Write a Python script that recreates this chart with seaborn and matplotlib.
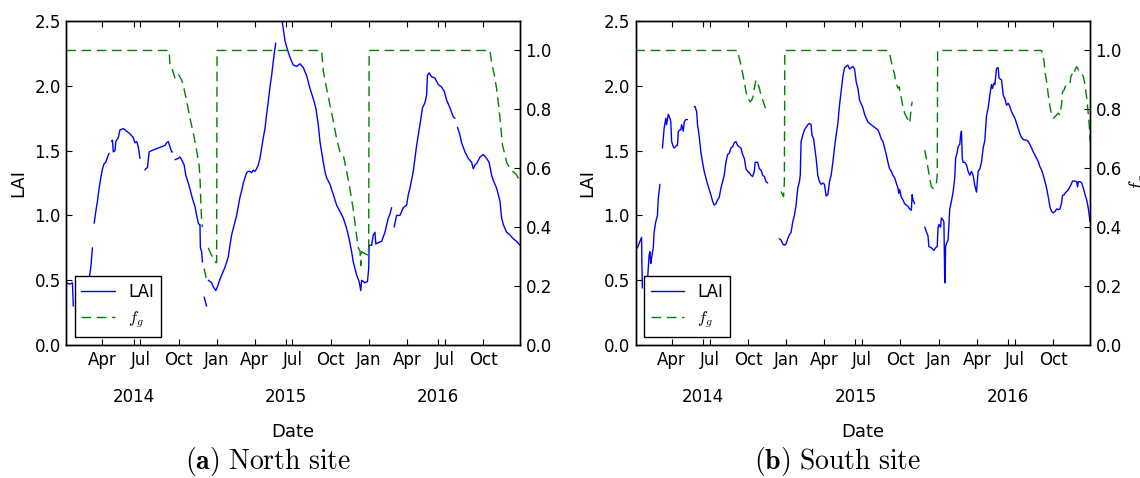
import numpy as np
import pandas as pd
import matplotlib
matplotlib.use("Agg")
import matplotlib.pyplot as plt
import matplotlib.dates as mdates
from matplotlib.lines import Line2D
from matplotlib.ticker import FixedLocator, FormatStrFormatter
import seaborn as sns

nan = np.nan
ORIGIN = pd.Timestamp("2014-01-01")   # day 0 of the series below
YEARS = [2014, 2015, 2016]

# ---------------- North site (days since 1 Jan 2014; NaN = gap in record) ----
north_lai_day = [
    3, 12, 18, 20, nan,
    58, 62, 66, nan,
    70, 74, 78, 82, 86, 90, 94, 98, 102, 106, nan,
    112, 114, 116, 120, 122, 128, 132, 140, 148, 156, 164, 168, 172, 176, 180, nan,
    192, 194, 198, 202, 208, 216, 224, 232, 240, 244, 248, 252, 256, 258, nan,
    264, 272, 276, 280, 286, 290, 296, 302, 306, 312, 316, 320, 322, 324, 325, 328, 330, nan,
    334, 340, nan,
    344, 348, 352, 356, 362, 366, 370, 376, 380, 384, 388, 392, 396, 400, 404, 408, 412,
    416, 420, 424, 428, 432, 436, 440, 444, 448, 452, 456, 460, 464, 468, 472, 476, 480,
    484, 488, 492, 496, 500, 504, 506, nan,
    512, 516, 520, 524, 528, 532, 536, 540, 548, 556, 564, 572, 580, 588, 596, 602, 608,
    612, 616, 620, 624, 628, 636, 644, 652, 660, 668, 676, 682, 688, 692, 700, 706, 710,
    712, 720, 726, 729, 730, 736, 740, 744, 746, 752, 760, 768, 776, 780, 784, nan,
    790, 796, 804, 812, 820, 824, 828, 836, 844, 852, 858, 864, 868, 870, 874, 880, 888,
    896, 904, 910, 916, 924, 932, 936, nan,
    942, 948, 952, 960, 968, 976, 980, 984, 988, 996, 1004, 1012, 1018, 1024, 1028, 1036,
    1044, 1048, 1052, 1060, 1068, 1076, 1084, 1092,
]
north_lai = [
    0.48, 0.47, 0.48, 0.30, nan,
    0.51, 0.60, 0.75, nan,
    0.94, 1.03, 1.11, 1.21, 1.29, 1.36, 1.40, 1.41, 1.45, 1.48, nan,
    1.57, 1.58, 1.49, 1.50, 1.57, 1.60, 1.66, 1.67, 1.65, 1.63, 1.60, 1.56, 1.57, 1.53, 1.44, nan,
    1.35, 1.36, 1.37, 1.49, 1.50, 1.51, 1.52, 1.53, 1.54, 1.56, 1.57, 1.53, 1.49, 1.49, nan,
    1.43, 1.44, 1.45, 1.43, 1.39, 1.31, 1.25, 1.18, 1.13, 1.07, 1.00, 0.94, 0.93, 0.93, 0.75, 0.72, 0.64, nan,
    0.37, 0.30, nan,
    0.50, 0.49, 0.48, 0.45, 0.42, 0.45, 0.49, 0.54, 0.57, 0.60, 0.64, 0.68, 0.77, 0.85, 0.90, 0.95, 1.00,
    1.07, 1.14, 1.19, 1.25, 1.29, 1.33, 1.34, 1.34, 1.33, 1.35, 1.34, 1.36, 1.39, 1.44, 1.52, 1.60, 1.67,
    1.78, 1.88, 1.99, 2.08, 2.19, 2.29, 2.33, nan,
    2.50, 2.53, 2.52, 2.44, 2.35, 2.30, 2.26, 2.22, 2.16, 2.15, 2.17, 2.14, 2.08, 1.98, 1.90, 1.83, 1.70,
    1.57, 1.49, 1.41, 1.34, 1.29, 1.24, 1.16, 1.08, 1.03, 0.98, 0.90, 0.82, 0.72, 0.64, 0.54, 0.49, 0.42,
    0.50, 0.48, 0.49, 0.59, 0.77, 0.77, 0.85, 0.87, 0.78, 0.79, 0.80, 0.87, 0.98, 1.01, 1.06, nan,
    0.91, 1.00, 1.00, 1.06, 1.08, 1.16, 1.21, 1.34, 1.54, 1.70, 1.83, 1.87, 1.93, 2.08, 2.10, 2.07, 2.06,
    2.01, 1.99, 1.96, 1.89, 1.83, 1.76, 1.75, nan,
    1.68, 1.62, 1.56, 1.49, 1.44, 1.41, 1.36, 1.39, 1.40, 1.45, 1.47, 1.44, 1.41, 1.31, 1.27, 1.21,
    1.11, 0.98, 0.93, 0.87, 0.85, 0.82, 0.80, 0.77,
]
north_fg_day = [
    3, 250, 252, 256, 259, 264, 270, 272, 276, 280, 284, 292, 300, 308, 316, 322, 324, 326, 328, 330, nan,
    334, 340, nan,
    344, 350, 356, 362, 364, 365, 616, 620, 628, 636, 644, 652, 660, 668, 676, 684, 692, 700, 704,
    708, 710, 712, 720, 726, 729, 730, 1020, 1024, 1030, 1036, 1042, 1046, 1050, 1056, 1060, 1068,
    1076, 1084, 1092,
]
north_fg = [
    1.0, 1.0, 0.95, 0.945, 0.93, 0.906, 0.915, 0.92, 0.91, 0.90, 0.88, 0.83, 0.77, 0.72, 0.66, 0.61,
    0.57, 0.49, 0.42, 0.40, nan,
    0.26, 0.22, nan,
    0.33, 0.31, 0.295, 0.28, 0.28, 1.0, 1.0, 0.93, 0.87, 0.815, 0.76, 0.70, 0.656, 0.645, 0.59, 0.53,
    0.46, 0.37, 0.33, 0.32, 0.27, 0.317, 0.31, 0.306, 0.33, 1.0, 1.0, 0.96, 0.92, 0.87, 0.80, 0.74,
    0.68, 0.645, 0.62, 0.60, 0.588, 0.577, 0.555,
]

# ---------------- South site -------------------------------------------------
south_lai_day = [
    3, 8, 14, 18, 19, 20, nan,
    32, 36, 38, 40, 42, 46, 48, 52, 56, 58, 62, nan,
    68, 72, 76, 78, 82, 86, 88, 90, 94, 96, 102, 104, 106, 110, 112, 114, 118, 120, 124, 128, nan,
    144, 146, 150, 152, 156, 160, 164, 168, 172, 176, 180, 184, 188, 192, 196, 200, 204, 208,
    212, 216, 220, 224, 228, 232, 236, 240, 244, 248, 252, 256, 260, 264, 268, 272, 276, 280,
    284, 288, 290, 296, 300, 304, 308, 312, 316, 320, nan,
    348, 352, 356, 360, 364, 368, 372, 376, 380, 384, 388, 392, 396, 398, 400, 404, 408, 416,
    420, 424, 426, 430, 432, 436, 440, 444, 448, 452, 456, 460, 464, 468, 472, 476, 480, 484,
    488, 492, 496, 500, 504, 508, 512, 516, 524, 528, 532, 536, 540, 548, 552, 556, 560, 564,
    572, 580, 584, 588, 592, 596, 600, 604, 608, 612, 616, 620, 624, 628, 632, 634, 636, 640,
    644, 648, 652, 656, 660, 664, 666, 668, 672, nan,
    696, 700, 704, 706, 712, 718, 722, 726, 728, 730, 734, 736, 740, 742, 744, 745, 746, 748,
    752, 756, 760, 764, 768, 770, 774, 776, 780, 782, 784, 786, 788, 792, 796, 800, 804, 808,
    812, 816, 820, 824, 828, 832, 836, 840, 844, 848, 852, 856, 858, 862, 864, 868, 872, 874,
    880, 884, 888, 892, 896, 900, 904, 908, 912, 916, 920, 924, 928, 932, 940, 944, 948, 952,
    956, 960, 964, 968, 972, 976, 980, 984, 988, 992, 996, 1000, 1004, 1008, 1012, 1016, 1020,
    1024, 1026, 1030, 1034, 1038, 1042, 1046, 1050, 1056, 1060, 1062, 1064, 1068, 1072, 1076,
    1080, 1084, 1088, 1092,
]
south_lai = [
    0.74, 0.75, 0.80, 0.83, 0.59, 0.44, nan,
    0.49, 0.69, 0.72, 0.63, 0.67, 0.75, 0.87, 0.95, 1.00, 1.13, 1.24, nan,
    1.52, 1.67, 1.75, 1.70, 1.78, 1.75, 1.72, 1.57, 1.53, 1.52, 1.54, 1.54, 1.65, 1.66, 1.66, 1.70,
    1.65, 1.72, 1.74, 1.74, nan,
    1.84, 1.84, 1.80, 1.70, 1.61, 1.49, 1.41, 1.34, 1.29, 1.24, 1.20, 1.16, 1.11, 1.08, 1.09, 1.12,
    1.14, 1.21, 1.26, 1.31, 1.41, 1.47, 1.48, 1.52, 1.53, 1.56, 1.57, 1.54, 1.53, 1.52, 1.47, 1.44,
    1.36, 1.34, 1.33, 1.31, 1.30, 1.34, 1.41, 1.41, 1.36, 1.35, 1.31, 1.30, 1.26, 1.25, nan,
    0.82, 0.81, 0.78, 0.77, 0.78, 0.82, 0.85, 0.87, 0.95, 1.00, 1.08, 1.21, 1.26, 1.31, 1.57, 1.62,
    1.66, 1.70, 1.71, 1.70, 1.62, 1.59, 1.54, 1.44, 1.31, 1.26, 1.24, 1.25, 1.24, 1.15, 1.16, 1.26,
    1.31, 1.41, 1.52, 1.62, 1.71, 1.85, 1.96, 2.07, 2.14, 2.15, 2.16, 2.13, 2.15, 2.13, 2.03, 1.98,
    1.89, 1.83, 1.78, 1.75, 1.72, 1.71, 1.69, 1.67, 1.66, 1.63, 1.59, 1.57, 1.52, 1.47, 1.41, 1.36,
    1.34, 1.31, 1.29, 1.25, 1.21, 1.17, 1.20, 1.14, 1.12, 1.09, 1.08, 1.07, 1.05, 1.04, 1.16, 1.12,
    1.09, nan,
    0.91, 0.875, 0.84, 0.76, 0.75, 0.73, 0.75, 0.76, 0.91, 0.93, 0.91, 0.98, 0.965, 0.95, 0.49,
    0.48, 0.76, 0.78, 0.81, 1.05, 1.11, 1.18, 1.29, 1.44, 1.49, 1.53, 1.55, 1.62, 1.65, 1.44, 1.41,
    1.41, 1.39, 1.34, 1.31, 1.34, 1.31, 1.23, 1.18, 1.34, 1.36, 1.41, 1.52, 1.58, 1.77, 1.83, 1.93,
    2.01, 1.98, 2.02, 2.01, 2.135, 2.14, 2.06, 2.045, 1.93, 1.90, 1.85, 1.865, 1.84, 1.80, 1.775,
    1.75, 1.71, 1.67, 1.63, 1.60, 1.585, 1.58, 1.57, 1.545, 1.52, 1.49, 1.465, 1.44, 1.415, 1.375,
    1.35, 1.31, 1.26, 1.21, 1.14, 1.065, 1.03, 1.02, 1.03, 1.05, 1.045, 1.05, 1.10, 1.155, 1.16,
    1.18, 1.19, 1.21, 1.235, 1.265, 1.265, 1.26, 1.22, 1.26, 1.26, 1.25, 1.21, 1.16, 1.12, 1.05, 0.95,
]
south_fg_day = [
    3, 248, 252, 256, 260, 264, 268, 272, 278, 282, 286, 288, 292, 296, 300, 304, 308, 312, 316, nan,
    352, 358, 360, 361, 608, 612, 616, 620, 624, 628, 632, 635, 636, 640, 644, 648, 652, 656, 660,
    662, 664, 666, nan,
    696, 700, 704, 708, 712, 716, 720, 724, 726, 727, 976, 978, 982, 984, 988, 992, 996, 1000,
    1004, 1008, 1012, 1016, 1020, 1024, 1026, 1030, 1034, 1040, 1044, 1046, 1050, 1053, 1056,
    1060, 1064, 1068, 1072, 1076, 1080, 1084, 1088, 1090, 1092,
]
south_fg = [
    1.0, 1.0, 0.973, 0.951, 0.923, 0.894, 0.86, 0.838, 0.826, 0.832, 0.849, 0.872, 0.90, 0.889,
    0.872, 0.849, 0.832, 0.815, 0.798, nan,
    0.521, 0.504, 0.554, 1.0, 1.0, 0.99, 0.962, 0.939, 0.917, 0.888, 0.872, 0.877, 0.866, 0.838,
    0.809, 0.787, 0.775, 0.764, 0.753, 0.781, 0.809, 0.826, nan,
    0.662, 0.634, 0.60, 0.566, 0.537, 0.532, 0.537, 0.549, 0.577, 1.0, 1.0, 0.99, 0.962, 0.928,
    0.894, 0.849, 0.809, 0.781, 0.770, 0.775, 0.781, 0.787, 0.781, 0.821, 0.86, 0.866, 0.883,
    0.888, 0.888, 0.911, 0.922, 0.917, 0.934, 0.945, 0.934, 0.928, 0.922, 0.911, 0.883, 0.838,
    0.781, 0.747, 0.69,
]

LAI_TICKS = [0.0, 0.5, 1.0, 1.5, 2.0, 2.5]
FG_TICKS = [0.0, 0.2, 0.4, 0.6, 0.8, 1.0]
X_START, X_END = 3.6, 1092.0       # visible date range, days since ORIGIN

sns.set_style("white")
plt.rcParams.update({
    "font.family": ["DejaVu Sans"],
    "mathtext.fontset": "cm",
    "text.color": "black",
    "axes.labelcolor": "black",
    "axes.edgecolor": "black",
    "axes.linewidth": 1.0,
    "xtick.color": "black",
    "ytick.color": "black",
    "xtick.direction": "in",
    "ytick.direction": "in",
    "xtick.labelsize": 12,
    "ytick.labelsize": 12,
    "lines.dashed_pattern": (7, 4),
})


def to_frame(days, values):
    """Turn a day/value record into a frame; each NaN starts a new segment."""
    d = np.asarray(days, float)
    v = np.asarray(values, float)
    seg = np.cumsum(np.isnan(v))
    keep = ~np.isnan(v)
    return pd.DataFrame({
        "date": ORIGIN + pd.to_timedelta(d[keep], unit="D"),
        "value": v[keep],
        "seg": seg[keep],
    })


def draw_panel(rect, lai_day, lai, fg_day, fg, caption, fg_ylabel):
    ax = fig.add_axes(rect)
    axt = ax.twinx()

    sns.lineplot(data=to_frame(lai_day, lai), x="date", y="value", units="seg",
                 estimator=None, sort=False, color="b", lw=1.0, ax=ax, legend=False)
    sns.lineplot(data=to_frame(fg_day, fg), x="date", y="value", units="seg",
                 estimator=None, sort=False, color="g", lw=1.0, linestyle="--",
                 ax=axt, legend=False)

    ax.set_xlim(ORIGIN + pd.Timedelta(days=X_START), ORIGIN + pd.Timedelta(days=X_END))
    ax.set_ylim(0, 2.5)
    ax.set_yticks(LAI_TICKS)
    ax.yaxis.set_major_formatter(FormatStrFormatter("%.1f"))
    axt.set_ylim(0, 1.1)
    axt.set_yticks(FG_TICKS)
    axt.yaxis.set_major_formatter(FormatStrFormatter("%.1f"))

    # quarter-month labels, with the year in a second row
    ax.xaxis.set_major_locator(mdates.MonthLocator(bymonth=[1, 4, 7, 10]))
    ax.xaxis.set_major_formatter(mdates.DateFormatter("%b"))
    year_pos = mdates.date2num([pd.Timestamp(f"{y}-06-15") for y in YEARS])
    ax.xaxis.set_minor_locator(FixedLocator(year_pos))
    ax.xaxis.set_minor_formatter(mdates.DateFormatter("%Y"))

    ax.tick_params(axis="x", which="both", top=True, bottom=True, length=4, width=0.8)
    ax.tick_params(axis="x", which="major", pad=4)
    ax.tick_params(axis="x", which="minor", pad=31, labelsize=12)
    ax.tick_params(axis="y", which="major", left=True, right=False, length=4, width=0.8, pad=4)
    axt.tick_params(axis="y", which="major", right=True, length=4, width=0.8, pad=4)

    ax.set_xlabel("Date", fontsize=13, labelpad=12)
    ax.set_ylabel("LAI", fontsize=13, labelpad=5)
    axt.set_ylabel(fg_ylabel, fontsize=14, labelpad=4)

    handles = [Line2D([0], [0], color="b", lw=1.0),
               Line2D([0], [0], color="g", lw=1.0, linestyle="--")]
    leg = axt.legend(handles, ["LAI", r"$f_g$"], loc="lower left", fontsize=12,
                     frameon=True, fancybox=False, framealpha=1, edgecolor="black",
                     borderpad=0.4, labelspacing=0.5, handlelength=2.0,
                     handletextpad=0.8, borderaxespad=0.5)
    leg.get_frame().set_linewidth(1.0)

    x_mid = rect[0] + rect[2] / 2
    fig.text(x_mid - 0.0225, 0.018, caption, ha="center", va="baseline", fontsize=20)
    return ax, axt


fig = plt.figure(figsize=(11.4, 4.78), dpi=100)
draw_panel([0.0583, 0.2782, 0.3978, 0.6778], north_lai_day, north_lai,
           north_fg_day, north_fg, r"$\mathbf{(a)}\ \mathrm{North\ site}$", "")
draw_panel([0.5575, 0.2782, 0.3987, 0.6778], south_lai_day, south_lai,
           south_fg_day, south_fg, r"$\mathbf{(b)}\ \mathrm{South\ site}$", r"$f_g$")

fig.savefig("out.png", dpi=100, facecolor="white")
